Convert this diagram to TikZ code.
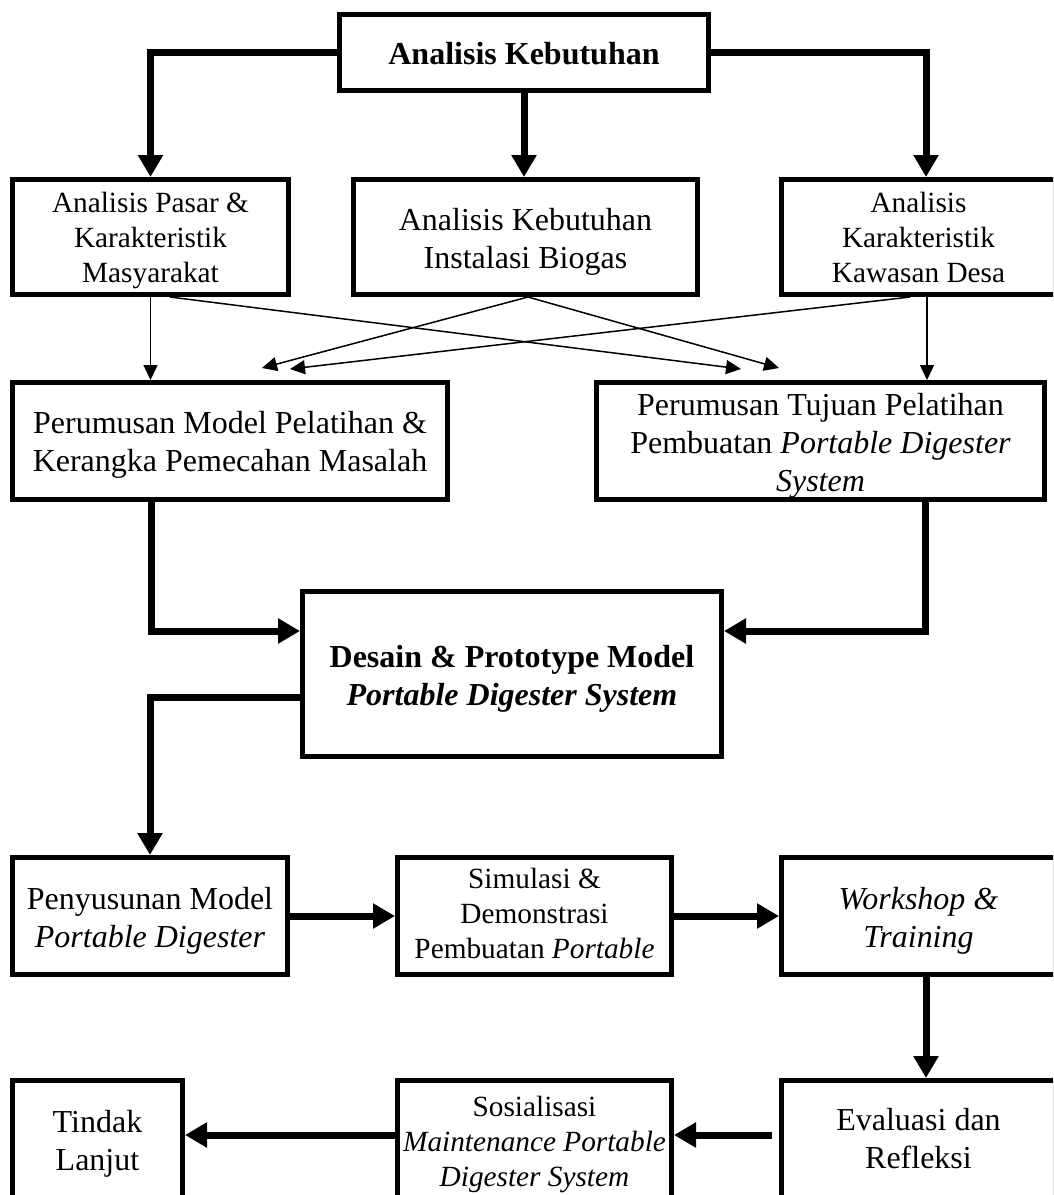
\documentclass[tikz,border=0pt]{standalone}
\usepackage{fontspec}
\setmainfont{Liberation Serif}
\usetikzlibrary{arrows.meta,calc}
\newcommand\bxtext[2][4pt]{\raisebox{-#1}[\height][\depth]{\begin{tabular}{@{}c@{}}#2\end{tabular}}}
\begin{document}
\begin{tikzpicture}[x=1pt,y=-1pt,
  box/.style={draw, line width=5pt, inner sep=0pt, align=center, font=\fontsize{32}{38}\selectfont},
  sbox/.style={box, font=\fontsize{29.3}{35}\selectfont},
  bigarrow/.style={line width=7pt, -{Triangle[length=22pt,width=24pt]}},
  thinarrow/.style={line width=1.5pt, -{Triangle[length=15pt,width=14pt]}}]
\useasboundingbox (0,0) rectangle (1053,1195);
\clip (0,0) rectangle (1053,1195);

% row 1
\node[box, minimum width=369pt, minimum height=76pt] (T) at (524,52.5) {\bxtext{\textbf{Analisis Kebutuhan}}};
% row 2
\node[sbox, minimum width=276pt, minimum height=115pt] (A) at (150.5,237) {\bxtext[3pt]{Analisis Pasar \&\\Karakteristik\\Masyarakat}};
\node[box, minimum width=344pt, minimum height=115pt] (B) at (525.5,237) {\bxtext[5pt]{Analisis Kebutuhan\\Instalasi Biogas}};
\node[sbox, minimum width=274pt, minimum height=115pt] (C) at (918.5,237) {\bxtext[3pt]{Analisis\\Karakteristik\\Kawasan Desa}};
% row 3
\node[box, minimum width=435pt, minimum height=117pt] (D) at (230,441) {\bxtext{Perumusan Model Pelatihan \&\\Kerangka Pemecahan Masalah}};
\node[box, minimum width=448pt, minimum height=117pt] (E) at (820.5,441) {\bxtext[5pt]{Perumusan Tujuan Pelatihan\\Pembuatan \textit{Portable Digester}\\\textit{System}}};
% centre
\node[box, minimum width=419pt, minimum height=165pt] (P) at (512,674) {\bxtext[5pt]{\textbf{Desain \& Prototype Model}\\\textbf{\textit{Portable Digester System}}}};
% row 4
\node[box, minimum width=275pt, minimum height=117pt] (F) at (150,916) {\bxtext[5pt]{Penyusunan Model\\\textit{Portable Digester}}};
\node[sbox, minimum width=274pt, minimum height=117pt] (G) at (534.5,916) {\bxtext[0pt]{Simulasi \&\\Demonstrasi\\Pembuatan \textit{Portable}}};
\node[box, minimum width=274pt, minimum height=117pt] (H) at (918.5,916) {\bxtext[5pt]{\textit{Workshop \&}\\\textit{Training}}};
% row 5
\node[box, minimum width=274pt, minimum height=117pt] (I) at (918.5,1139) {\bxtext[3pt]{Evaluasi dan\\Refleksi}};
\node[sbox, minimum width=274pt, minimum height=117pt] (J) at (534.5,1139) {\bxtext[5pt]{Sosialisasi\\\textit{Maintenance Portable}\\\textit{Digester System}}};
\node[box, minimum width=170pt, minimum height=117pt] (K) at (97.5,1139) {\bxtext[5pt]{Tindak\\Lanjut}};

% thick connectors from the top box
\draw[bigarrow] (T.west) -| (A.north);
\draw[bigarrow] (T.south) -- (T.south |- B.north);
\draw[bigarrow] (T.east) -| ([xshift=7.5pt]C.north);

% thin connectors
\coordinate (d1) at (262,368);
\coordinate (d2) at (290,369);
\coordinate (e1) at (741,369);
\coordinate (e2) at (779,368);
\draw[thinarrow] (A.south) -- (A.south |- D.north);
\draw[thinarrow] ([xshift=19.5pt]A.south) -- (e1);
\draw[thinarrow] ([xshift=2.5pt]B.south) -- (d1);
\draw[thinarrow] ([xshift=2.5pt]B.south) -- (e2);
\draw[thinarrow] ([xshift=-8.5pt]C.south) -- (d2);
\draw[thinarrow] ([xshift=8.5pt]C.south) -- ([xshift=8.5pt]C.south |- E.north);

% into and out of the centre box
\draw[bigarrow] ([xshift=-79pt]D.south) |- ([yshift=43pt]P.west);
\draw[bigarrow] ([xshift=105pt]E.south) |- ([yshift=43pt]P.east);
\draw[bigarrow] ([yshift=-23pt]P.west) -| (F.north);

% lower flow
\draw[bigarrow] (F.east) -- (G.west);
\draw[bigarrow] (G.east) -- (H.west);
\draw[bigarrow] ([xshift=7.5pt]H.south) -- ([xshift=7.5pt]I.north);
\draw[bigarrow] ([xshift=-7pt,yshift=4pt]I.west) -- ([yshift=4pt]J.east);
\draw[bigarrow] ([yshift=4pt]J.west) -- ([yshift=4pt]K.east);
\end{tikzpicture}
\end{document}
